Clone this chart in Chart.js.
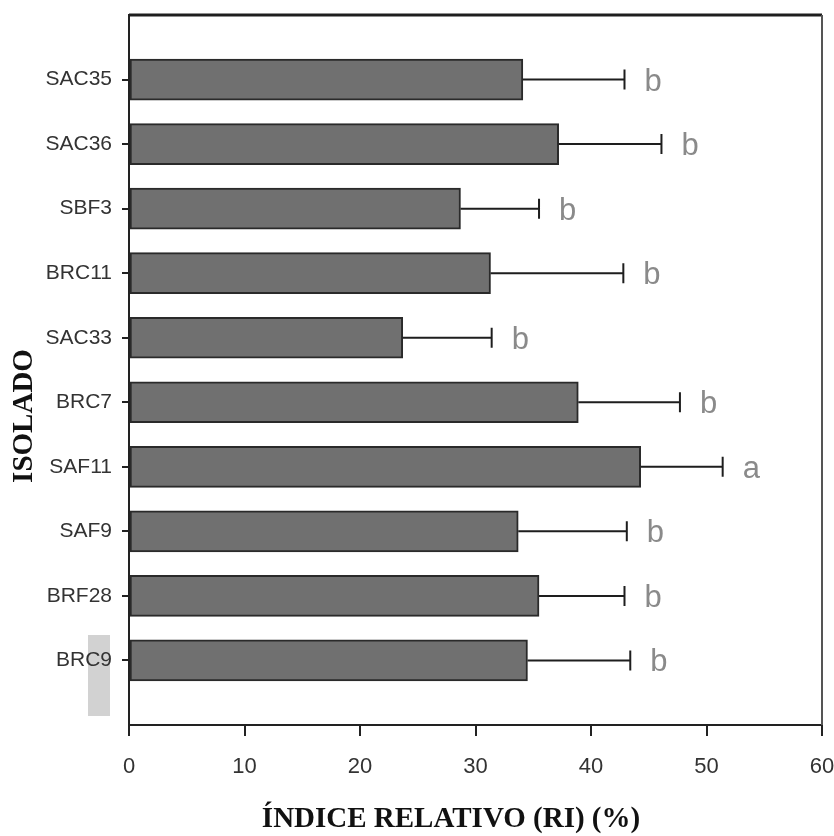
<!DOCTYPE html>
<html>
<head>
<meta charset="utf-8">
<script src="https://cdn.jsdelivr.net/npm/chart.js@4"></script>
<style>
  html, body { margin: 0; padding: 0; background: #fff; }
  #wrap { width: 834px; height: 836px; }
</style>
</head>
<body>
<div id="wrap"><canvas id="riChart" width="834" height="836"></canvas></div>
<script>
// isolates, top to bottom
const isolados = ['SAC35', 'SAC36', 'SBF3', 'BRC11', 'SAC33', 'BRC7', 'SAF11', 'SAF9', 'BRF28', 'BRC9'];
// mean relative index (%)
const ri = [34.1, 37.2, 28.7, 31.3, 23.7, 38.9, 44.3, 33.7, 35.5, 34.5];
// upper end of the error bar (%)
const riUpper = [42.9, 46.1, 35.5, 42.8, 31.4, 47.7, 51.4, 43.1, 42.9, 43.4];
// significance letters
const letras = ['b', 'b', 'b', 'b', 'b', 'b', 'a', 'b', 'b', 'b'];
const xTicks = [0, 10, 20, 30, 40, 50, 60];

const sans = "'Liberation Sans', Arial, sans-serif";
const serif = "'Liberation Serif', 'Times New Roman', serif";

// error bars, letters, frame and axis titles
const extras = {
  id: 'extras',
  beforeDraw(chart) {
    const ctx = chart.ctx;
    ctx.save();
    ctx.fillStyle = '#d2d2d2';
    ctx.fillRect(88, 635, 22, 81);
    ctx.restore();
  },
  afterDatasetsDraw(chart) {
    const { ctx, scales: { x, y }, chartArea: a } = chart;
    ctx.save();
    ctx.strokeStyle = '#1e1e1e';
    ctx.lineWidth = 2;
    isolados.forEach((name, i) => {
      const yc = y.getPixelForValue(i + 1);
      const x0 = x.getPixelForValue(ri[i]);
      const x1 = x.getPixelForValue(riUpper[i]);
      ctx.beginPath();
      ctx.moveTo(x0, yc);
      ctx.lineTo(x1, yc);
      ctx.moveTo(x1, yc - 10);
      ctx.lineTo(x1, yc + 10);
      ctx.stroke();
      ctx.fillStyle = '#8a8a8a';
      ctx.font = '31px ' + sans;
      ctx.textAlign = 'left';
      ctx.textBaseline = 'alphabetic';
      ctx.fillText(letras[i], x1 + 20, yc + 11);
    });

    // top and right frame
    ctx.beginPath();
    ctx.lineWidth = 3;
    ctx.strokeStyle = '#1e1e1e';
    ctx.moveTo(a.left, a.top);
    ctx.lineTo(a.right, a.top);
    ctx.stroke();
    ctx.beginPath();
    ctx.lineWidth = 2;
    ctx.strokeStyle = '#555';
    ctx.moveTo(a.right, a.top);
    ctx.lineTo(a.right, a.bottom);
    ctx.stroke();

    // axis titles
    ctx.fillStyle = '#111';
    ctx.font = 'bold 29px ' + serif;
    ctx.textAlign = 'center';
    ctx.textBaseline = 'middle';
    ctx.fillText('ÍNDICE RELATIVO (RI) (%)', 451, 820);
    ctx.translate(25, 416);
    ctx.rotate(-Math.PI / 2);
    ctx.fillText('ISOLADO', 0, 0);
    ctx.restore();
  }
};

new Chart(document.getElementById('riChart'), {
  type: 'bar',
  data: {
    datasets: [{
      data: isolados.map((n, i) => ({ x: ri[i], y: i + 1 })),
      backgroundColor: '#707070',
      borderColor: '#2a2a2a',
      borderWidth: 2,
      borderSkipped: false,
      barThickness: 41
    }]
  },
  options: {
    indexAxis: 'y',
    responsive: false,
    animation: false,
    layout: { padding: { top: 15, right: 12, left: 0, bottom: 0 } },
    plugins: { legend: { display: false }, tooltip: { enabled: false } },
    scales: {
      x: {
        type: 'linear',
        min: 0,
        max: 60,
        afterBuildTicks: (s) => { s.ticks = xTicks.map(v => ({ value: v })); },
        afterFit: (s) => { s.height = 111; s.paddingLeft = 0; s.paddingRight = 0; },
        grid: { drawOnChartArea: false, tickLength: 11, color: '#222', lineWidth: 2 },
        border: { color: '#222', width: 2 },
        ticks: { color: '#333', padding: 18, maxRotation: 0, font: { family: sans, size: 22 } }
      },
      y: {
        type: 'linear',
        reverse: true,
        offset: false,
        min: 0,
        max: 11,
        afterBuildTicks: (s) => { s.ticks = isolados.map((n, i) => ({ value: i + 1 })); },
        afterFit: (s) => { s.width = 129; s.paddingTop = 0; s.paddingBottom = 0; },
        grid: { offset: false, drawOnChartArea: false, tickLength: 7, color: '#222', lineWidth: 2 },
        border: { color: '#222', width: 2 },
        ticks: {
          color: '#333',
          padding: 10,
          font: { family: sans, size: 21 },
          callback: (v) => isolados[v - 1]
        }
      }
    }
  },
  plugins: [extras]
});
</script>
</body>
</html>
